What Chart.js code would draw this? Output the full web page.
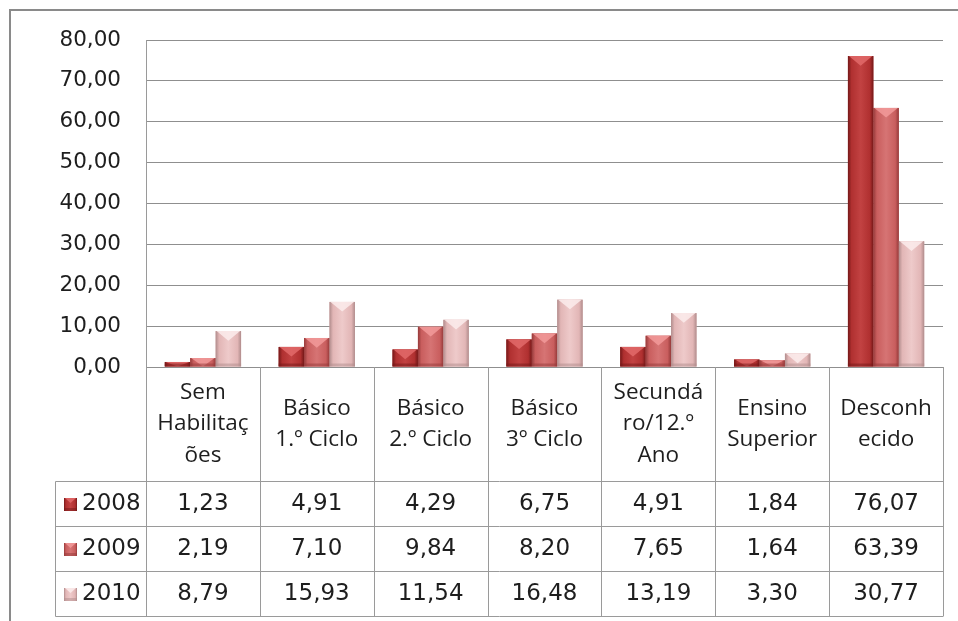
<!DOCTYPE html>
<html>
<head>
<meta charset="utf-8">
<script src="https://cdn.jsdelivr.net/npm/chart.js@4"></script>
<style>
  html, body { margin: 0; padding: 0; background: #ffffff; }
  #wrap { width: 958px; height: 621px; }
</style>
</head>
<body>
<div id="wrap"><canvas id="c" width="958" height="621"></canvas></div>
<script>
// ---- Data ----
const categories = [
  ["Sem", "Habilitaç", "ões"],
  ["Básico", "1.º Ciclo"],
  ["Básico", "2.º Ciclo"],
  ["Básico", "3º Ciclo"],
  ["Secundá", "ro/12.º", "Ano"],
  ["Ensino", "Superior"],
  ["Desconh", "ecido"]
];
const years = ["2008", "2009", "2010"];
const values2008 = [1.23, 4.91, 4.29, 6.75, 4.91, 1.84, 76.07];
const values2009 = [2.19, 7.10, 9.84, 8.20, 7.65, 1.64, 63.39];
const values2010 = [8.79, 15.93, 11.54, 16.48, 13.19, 3.30, 30.77];
const yMin = 0, yMax = 80, yStep = 10;

// ---- Styles ----
const palette = [
  { base: '#b03030', dark: '#741818', light: '#c24242', top: '#e26a6a' },
  { base: '#c95e5e', dark: '#963a3a', light: '#d67474', top: '#f29a9a' },
  { base: '#e2b6b6', dark: '#b08c8c', light: '#eecaca', top: '#fbecec' }
];
const numFont = '"DejaVu Sans", sans-serif';
const txtFont = '"Open Sans", sans-serif';
const textColor = '#1e1e1e';
const lineColor = '#9a9a9a';
const fmt = v => v.toFixed(2).replace('.', ',');

function paintBar(ctx, x0, x1, top, bottom, p) {
  const w = x1 - x0;
  const h = bottom - top;
  if (h <= 0 || w <= 0) return;
  const g = ctx.createLinearGradient(x0, 0, x1, 0);
  g.addColorStop(0, p.dark);
  g.addColorStop(0.14, p.base);
  g.addColorStop(0.5, p.light);
  g.addColorStop(0.86, p.base);
  g.addColorStop(1, p.dark);
  ctx.fillStyle = g;
  ctx.fillRect(x0, top, w, h);
  // bevelled top
  const th = Math.min(w * 0.38, h);
  ctx.beginPath();
  ctx.moveTo(x0 + 1, top);
  ctx.lineTo(x1 - 1, top);
  ctx.lineTo((x0 + x1) / 2, top + th);
  ctx.closePath();
  ctx.fillStyle = p.top;
  ctx.globalAlpha = 0.85;
  ctx.fill();
  ctx.globalAlpha = 1;
  // bottom shade
  const bh = Math.min(3, h);
  ctx.fillStyle = p.dark;
  ctx.globalAlpha = 0.5;
  ctx.fillRect(x0, bottom - bh, w, bh);
  ctx.globalAlpha = 1;
}

const decorPlugin = {
  id: 'decor',
  beforeDraw(chart) {
    const ctx = chart.ctx;
    ctx.save();
    ctx.fillStyle = '#ffffff';
    ctx.fillRect(0, 0, chart.width, chart.height);
    ctx.restore();
  },
  afterDatasetsDraw(chart) {
    const ctx = chart.ctx;
    ctx.save();
    chart.data.datasets.forEach((ds, di) => {
      const meta = chart.getDatasetMeta(di);
      meta.data.forEach(el => {
        const p = el.getProps(['x', 'y', 'base', 'width'], true);
        paintBar(ctx, p.x - p.width / 2, p.x + p.width / 2, p.y, p.base, palette[di]);
      });
    });
    ctx.restore();
  },
  afterDraw(chart) {
    const ctx = chart.ctx;
    const area = chart.chartArea;
    const xs = chart.scales.x;
    const n = categories.length;
    const colW = (area.right - area.left) / n;
    const headerTop = area.bottom;
    const headerH = 114;
    const rowH = 45;
    const tableLeft = area.left - 91;
    const rowsTop = headerTop + headerH;
    const tableBottom = rowsTop + rowH * years.length;
    const series = chart.data.datasets.map(d => d.data);

    ctx.save();
    ctx.strokeStyle = lineColor;
    ctx.lineWidth = 1;
    const L = v => Math.round(v) + 0.5;

    // vertical column lines (header + rows)
    for (let i = 0; i <= n; i++) {
      const x = L(area.left + colW * i);
      ctx.beginPath();
      ctx.moveTo(x, headerTop);
      ctx.lineTo(x, tableBottom);
      ctx.stroke();
    }
    // left border of legend column
    ctx.beginPath();
    ctx.moveTo(L(tableLeft), L(rowsTop));
    ctx.lineTo(L(tableLeft), L(tableBottom));
    ctx.stroke();
    // horizontal row lines
    for (let r = 0; r <= years.length; r++) {
      const y = L(rowsTop + rowH * r);
      ctx.beginPath();
      ctx.moveTo(L(tableLeft), y);
      ctx.lineTo(L(area.right), y);
      ctx.stroke();
    }

    // header labels
    ctx.fillStyle = textColor;
    ctx.textAlign = 'center';
    ctx.textBaseline = 'middle';
    ctx.font = '22.5px ' + txtFont;
    const lh = 31.5;
    categories.forEach((lines, i) => {
      const cx = xs.getPixelForValue(i);
      const cy = headerTop + headerH / 2;
      const start = cy - (lines.length - 1) * lh / 2;
      lines.forEach((t, k) => ctx.fillText(t, cx, start + k * lh));
    });

    // rows
    years.forEach((yr, r) => {
      const cy = rowsTop + rowH * r + rowH / 2 + 1;
      // legend swatch
      const sx = tableLeft + 9, sz = 13;
      paintBar(ctx, sx, sx + sz, cy - sz / 2, cy + sz / 2, palette[r]);
      ctx.fillStyle = textColor;
      ctx.font = '23px ' + numFont;
      ctx.textAlign = 'left';
      ctx.fillText(yr, sx + sz + 5, cy);
      ctx.textAlign = 'center';
      series[r].forEach((v, i) => {
        ctx.fillText(fmt(v), xs.getPixelForValue(i), cy);
      });
    });

    // outer chart border (right/bottom fall outside the picture)
    ctx.strokeStyle = '#8a8a8a';
    ctx.lineWidth = 2;
    ctx.strokeRect(10, 10, chart.width + 10, chart.height + 10);
    ctx.restore();
  }
};

new Chart(document.getElementById('c'), {
  type: 'bar',
  data: {
    labels: categories,
    datasets: [
      { label: years[0], data: values2008, backgroundColor: palette[0].base },
      { label: years[1], data: values2009, backgroundColor: palette[1].base },
      { label: years[2], data: values2010, backgroundColor: palette[2].base }
    ]
  },
  options: {
    responsive: false,
    animation: false,
    devicePixelRatio: 1,
    layout: { padding: { left: 0, top: 40, right: 15, bottom: 254 } },
    plugins: { legend: { display: false }, tooltip: { enabled: false } },
    datasets: { bar: { categoryPercentage: 0.67, barPercentage: 1.0, borderWidth: 0 } },
    scales: {
      x: { display: false },
      y: {
        min: yMin, max: yMax,
        afterFit(scale) { scale.width = 146; },
        border: { display: true, color: lineColor, width: 1 },
        grid: { color: '#8f8f8f', lineWidth: 1, drawTicks: false },
        ticks: {
          stepSize: yStep,
          padding: 25,
          color: textColor,
          font: { family: 'DejaVu Sans', size: 21.5 },
          callback: v => fmt(v)
        }
      }
    }
  },
  plugins: [decorPlugin]
});
</script>
</body>
</html>
